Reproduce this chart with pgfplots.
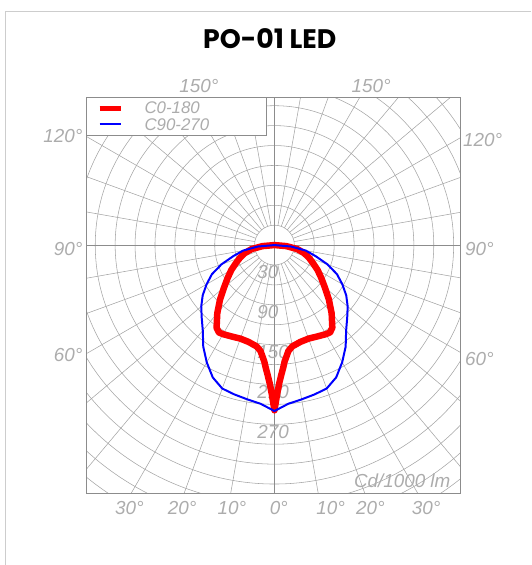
\documentclass[border=0pt]{standalone}
\usepackage{fontspec}
\usepackage{pgfplots}
\pgfplotsset{compat=1.18}
\setmainfont{Liberation Sans}
\newfontfamily\titlefont{Poppins}
\newfontfamily\cad{Liberation Sans}
\definecolor{gridc}{RGB}{165,165,165}
\definecolor{gridd}{RGB}{140,140,140}
\definecolor{txtc}{RGB}{172,172,172}
\definecolor{cardc}{RGB}{205,205,205}
\newcommand{\cf}{\cad\itshape\fontsize{19}{19}\selectfont}
\newcommand{\lf}{\cad\itshape\fontsize{17}{17}\selectfont}
\begin{document}
\begin{tikzpicture}
\begin{scope}[x=1bp,y=1bp]
\path (0,0) rectangle (531,565);
\draw[cardc, line width=1bp] (6,-2) -- (6,553) -- (533,553);
\node[font=\titlefont\bfseries\fontsize{27}{27}\selectfont] at (271,526) {PO-01 LED};
% polar grid
\begin{scope}
\clip (87,69.5) rectangle (462,467.5);
\begin{scope}[shift={(275.67,318.83)}, x=0.666667bp, y=0.666667bp]
 \foreach \r in {30,60,...,480} \draw[gridc, line width=0.55bp] (0,0) circle[radius=\r];
 \foreach \a in {0,10,...,350} \draw[gridc, line width=0.55bp] (\a:30) -- (\a:720);
 \draw[gridd, line width=0.55bp] (-720,0) -- (720,0) (0,-720) -- (0,720);
 \foreach \v in {30,90,150,210,270}
   \node[anchor=west, text=txtc, font=\cf, inner sep=0pt] at (-26,{-\v-11}) {\v};
\end{scope}
\end{scope}
\draw[gridd, line width=0.6bp] (87,69.5) rectangle (462,467.5);
\end{scope}

\begin{axis}[at={(87bp,69.5bp)}, anchor=south west, scale only axis,
  width=375bp, height=398bp, xmin=-283, xmax=279.5, ymin=-374, ymax=223,
  axis lines=none, clip=true]
% C0-180 (angle measured counter-clockwise from +x; nadir = -90)
\addplot[red, line width=6.5bp, line join=round, line cap=round, data cs=polar] coordinates {
(-180,0) (-175,18) (-170,35) (-165,46) (-160,55) (-155,64) (-150,75) (-145,86)
(-140,99) (-135,116) (-130,134) (-125,152) (-122.5,156) (-120,155) (-115,152)
(-110,150) (-105,151) (-100,155) (-97.5,161) (-95,176) (-94,186) (-93,196)
(-92,208) (-91,225) (-90,249)
(-89,225) (-88,208) (-87,196) (-86,186) (-85,176) (-82.5,161) (-80,155)
(-75,151) (-70,150) (-65,152) (-60,155) (-57.5,156) (-55,152) (-50,134)
(-45,116) (-40,99) (-35,86) (-30,75) (-25,64) (-20,55) (-15,46) (-10,35)
(-5,18) (0,0)
};
% C90-270
\addplot[blue, line width=2bp, line join=round, data cs=polar] coordinates {
(-180,0) (-175,25) (-170,48) (-165,64) (-160,85) (-155,104) (-150,118)
(-145,132) (-140,144) (-135,155) (-130,168) (-125,187) (-120,204) (-115,220)
(-110,230) (-105,233) (-100,236) (-95,240) (-90,250)
(-85,240) (-80,236) (-75,233) (-70,230) (-65,220) (-60,204) (-55,187)
(-50,168) (-45,155) (-40,144) (-35,132) (-30,118) (-25,104) (-20,85)
(-15,64) (-10,48) (-5,25) (0,0)
};
\end{axis}

\begin{scope}[x=1bp,y=1bp]
% legend
\draw[gridd, line width=0.6bp, fill=white] (87,429) rectangle (267,467.5);
\draw[red, line width=5bp] (100,456) -- (122,456);
\draw[blue, line width=2bp] (100,440) -- (122,440);
\node[anchor=base west, text=txtc, font=\lf, inner sep=0pt] at (145,450.5) {C0-180};
\node[anchor=base west, text=txtc, font=\lf, inner sep=0pt] at (145,433.5) {C90-270};
% angle labels
\node[anchor=base west, text=txtc, font=\cf, inner sep=0pt] at (180,472) {150°};
\node[anchor=base west, text=txtc, font=\cf, inner sep=0pt] at (353,472) {150°};
\node[anchor=base east, text=txtc, font=\cf, inner sep=0pt] at (83,422) {120°};
\node[anchor=base east, text=txtc, font=\cf, inner sep=0pt] at (83,308) {90°};
\node[anchor=base east, text=txtc, font=\cf, inner sep=0pt] at (83,202) {60°};
\node[anchor=base west, text=txtc, font=\cf, inner sep=0pt] at (465,418) {120°};
\node[anchor=base west, text=txtc, font=\cf, inner sep=0pt] at (467,308) {90°};
\node[anchor=base west, text=txtc, font=\cf, inner sep=0pt] at (467,198) {60°};
\foreach \x/\t in {130/30,183/20,233/10,280/0,332/10,372/20,428/30}
  \node[anchor=base, text=txtc, font=\cf, inner sep=0pt] at (\x,48) {\t°};
\node[anchor=base, text=txtc, font=\cf, inner sep=0pt] at (404,75) {Cd/1000 lm};
\end{scope}
\end{tikzpicture}
\end{document}
